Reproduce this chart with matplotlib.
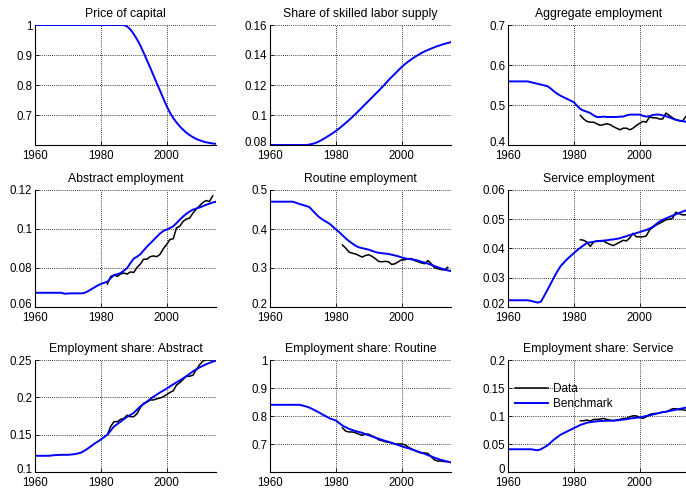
import numpy as np
import matplotlib
matplotlib.use("Agg")
import matplotlib.pyplot as plt
import matplotlib.transforms as mtransforms
from matplotlib.ticker import FuncFormatter

plt.rcParams['font.family'] = ['Liberation Sans', 'DejaVu Sans']

years = np.arange(1960, 2016)
data_years = np.arange(1982, 2015)

price_bench = [1.0, 1.0, 1.0, 1.0, 1.0, 1.0, 1.0, 1.0, 1.0, 1.0,
               1.0, 1.0, 1.0, 1.0, 1.0, 1.0, 1.0, 1.0, 1.0, 1.0,
               1.0, 1.0, 1.0, 1.0, 1.0, 1.0, 1.0, 1.0,
               0.995, 0.985, 0.970, 0.952, 0.932, 0.908, 0.883, 0.858, 0.832, 0.806,
               0.781, 0.755, 0.730, 0.708, 0.690, 0.675, 0.662, 0.651, 0.641, 0.633,
               0.626, 0.620, 0.616, 0.612, 0.609, 0.607, 0.605, 0.604]

skill_bench = [0.080, 0.080, 0.080, 0.080, 0.080, 0.080, 0.080, 0.080, 0.080, 0.080,
               0.080, 0.080,
               0.0803, 0.0808, 0.0815, 0.0825, 0.0837, 0.0850, 0.0864, 0.0878, 0.0893, 0.0910,
               0.0928, 0.0947, 0.0966, 0.0986, 0.1007, 0.1029, 0.1051, 0.1073, 0.1095, 0.1117,
               0.1139, 0.1161, 0.1184, 0.1207, 0.1232, 0.1254, 0.1276, 0.1298, 0.1320, 0.1339,
               0.1356, 0.1372, 0.1387, 0.1400, 0.1413, 0.1424, 0.1434, 0.1443, 0.1452, 0.1460,
               0.1467, 0.1474, 0.1480, 0.1486]

agg_bench = [0.559, 0.559, 0.559, 0.559, 0.559, 0.559, 0.559,
             0.557, 0.555, 0.553, 0.551, 0.549, 0.547, 0.541, 0.534, 0.528, 0.523,
             0.519, 0.515, 0.511, 0.507, 0.498, 0.490, 0.486, 0.483, 0.480, 0.474,
             0.470, 0.470, 0.471, 0.470, 0.470, 0.470, 0.470, 0.471, 0.471, 0.474,
             0.476, 0.476, 0.476, 0.476, 0.473, 0.471, 0.472, 0.475, 0.476, 0.476,
             0.474, 0.472, 0.469, 0.466, 0.463, 0.461, 0.460, 0.458, 0.457]
agg_data = [0.474, 0.465, 0.459, 0.457, 0.457, 0.453, 0.449, 0.451, 0.453, 0.451,
            0.446, 0.442, 0.438, 0.442, 0.442, 0.438, 0.442, 0.449, 0.454, 0.459,
            0.457, 0.470, 0.468, 0.468, 0.465, 0.465, 0.480, 0.474, 0.468, 0.463,
            0.461, 0.459, 0.471]

abs_bench = [0.0673, 0.0673, 0.0673, 0.0673, 0.0673, 0.0673, 0.0673, 0.0673, 0.0673,
             0.0668, 0.0669, 0.0670, 0.0670, 0.0670, 0.0670, 0.0672, 0.0680, 0.0690, 0.0700,
             0.0710, 0.0718, 0.0724, 0.0730, 0.0748, 0.0764, 0.0768, 0.0774, 0.0786, 0.0800,
             0.0825, 0.0848, 0.0858, 0.0870, 0.0890, 0.0909, 0.0926, 0.0943, 0.0960, 0.0977,
             0.0990, 0.0997, 0.1005, 0.1014, 0.1030, 0.1048, 0.1064, 0.1078, 0.1090, 0.1099,
             0.1105, 0.1110, 0.1117, 0.1124, 0.1130, 0.1136, 0.1140]
abs_data = [0.0718, 0.0757, 0.0764, 0.0757, 0.0769, 0.0774, 0.0769, 0.0780, 0.0777, 0.0803,
            0.0820, 0.0845, 0.0845, 0.0858, 0.0862, 0.0858, 0.0870, 0.0899, 0.0921, 0.0946,
            0.0950, 0.1006, 0.1014, 0.1039, 0.1051, 0.1056, 0.1082, 0.1102, 0.1119, 0.1136,
            0.1146, 0.1141, 0.1170]

rout_bench = [0.470, 0.470, 0.470, 0.470, 0.470, 0.470, 0.470, 0.470,
              0.467, 0.464, 0.4615, 0.459, 0.456, 0.447, 0.438, 0.430, 0.424, 0.419,
              0.414, 0.407, 0.399, 0.392, 0.384, 0.376, 0.369, 0.363, 0.357, 0.353,
              0.351, 0.349, 0.347, 0.344, 0.341, 0.339, 0.338, 0.337, 0.336, 0.334,
              0.332, 0.330, 0.327, 0.325, 0.323, 0.322, 0.321, 0.319, 0.316, 0.314,
              0.311, 0.308, 0.305, 0.302, 0.299, 0.296, 0.294, 0.292]
rout_data = [0.359, 0.351, 0.341, 0.338, 0.336, 0.332, 0.328, 0.332, 0.334, 0.330,
             0.324, 0.317, 0.316, 0.317, 0.316, 0.309, 0.311, 0.316, 0.321, 0.321,
             0.324, 0.324, 0.319, 0.316, 0.313, 0.311, 0.319, 0.311, 0.301, 0.298,
             0.296, 0.295, 0.302]

serv_bench = [0.0223, 0.0223, 0.0223, 0.0223, 0.0223, 0.0223, 0.0223,
              0.0221, 0.0218, 0.0215, 0.0218, 0.0238, 0.0259, 0.0280, 0.0302, 0.0322,
              0.0340, 0.0352, 0.0364, 0.0374, 0.0384, 0.0394, 0.0403, 0.0411, 0.0419,
              0.0421, 0.0423, 0.0425, 0.0426, 0.0427, 0.0428, 0.0430, 0.0431, 0.0433,
              0.0435, 0.0439, 0.0442, 0.0446, 0.0449, 0.0453, 0.0456, 0.0460, 0.0463,
              0.0468, 0.0474, 0.0483, 0.0492, 0.0498, 0.0503, 0.0508, 0.0512, 0.0517,
              0.0521, 0.0526, 0.0530, 0.0533]
serv_data = [0.0430, 0.0428, 0.0422, 0.0407, 0.0422, 0.0426, 0.0425, 0.0426, 0.0419, 0.0414,
             0.0410, 0.0416, 0.0422, 0.0428, 0.0426, 0.0436, 0.0452, 0.0440, 0.0440, 0.0440,
             0.0443, 0.0463, 0.0472, 0.0480, 0.0486, 0.0492, 0.0498, 0.0500, 0.0503, 0.0524,
             0.0519, 0.0515, 0.0515]

sh_abs_bench = [0.1217, 0.1217, 0.1217, 0.1217, 0.1217,
                0.1220, 0.1226, 0.1228, 0.1230, 0.1230, 0.1230, 0.1234, 0.1239, 0.1248, 0.1260,
                0.1285, 0.1313, 0.1345, 0.1378, 0.1405, 0.1435, 0.1467, 0.1500, 0.1555, 0.1609,
                0.1642, 0.1674, 0.1707, 0.1740, 0.1765, 0.1791, 0.1835, 0.1878, 0.1910, 0.1943,
                0.1976, 0.2009, 0.2037, 0.2065, 0.2091, 0.2117, 0.2145, 0.2174, 0.2200, 0.2226,
                0.2255, 0.2283, 0.2315, 0.2348, 0.2374, 0.2400, 0.2422, 0.2443, 0.2461, 0.2478,
                0.2490]
sh_abs_data = [0.1500, 0.1610, 0.1674, 0.1674, 0.1704, 0.1717, 0.1761, 0.1740, 0.1740, 0.1780,
               0.1861, 0.1922, 0.1935, 0.1965, 0.1965, 0.1980, 0.1991, 0.2009, 0.2035, 0.2065,
               0.2087, 0.2165, 0.2196, 0.2240, 0.2283, 0.2283, 0.2296, 0.2370, 0.2435, 0.2487,
               0.2500, 0.2500, 0.2500]

sh_rout_bench = [0.840, 0.840, 0.840, 0.840, 0.840, 0.840, 0.840, 0.840, 0.840, 0.840,
                 0.837, 0.834, 0.830, 0.824, 0.818, 0.812, 0.805, 0.799, 0.792, 0.788,
                 0.784, 0.775, 0.766, 0.760, 0.754, 0.750, 0.746, 0.743, 0.740, 0.735,
                 0.731, 0.727, 0.723, 0.719, 0.715, 0.711, 0.708, 0.704, 0.700, 0.696,
                 0.692, 0.688, 0.685, 0.681, 0.677, 0.673, 0.669, 0.665, 0.660, 0.656,
                 0.651, 0.647, 0.643, 0.640, 0.637, 0.634]
sh_rout_data = [0.758, 0.746, 0.743, 0.743, 0.740, 0.735, 0.731, 0.735, 0.735, 0.729,
                0.723, 0.715, 0.712, 0.708, 0.706, 0.704, 0.700, 0.700, 0.700, 0.697,
                0.689, 0.683, 0.677, 0.671, 0.668, 0.668, 0.666, 0.654, 0.643, 0.639,
                0.639, 0.637, 0.637]

sh_serv_bench = [0.0406, 0.0406, 0.0406, 0.0406, 0.0406, 0.0406, 0.0406, 0.0406,
                 0.0397, 0.0388, 0.0406, 0.0440, 0.0475, 0.0527, 0.0580, 0.0623, 0.0667,
                 0.0696, 0.0725, 0.0754, 0.0783, 0.0812, 0.0840, 0.0860, 0.0880, 0.0890,
                 0.0899, 0.0905, 0.0910, 0.0913, 0.0916, 0.0916, 0.0916, 0.0922, 0.0928,
                 0.0937, 0.0945, 0.0954, 0.0962, 0.0968, 0.0974, 0.0987, 0.1000, 0.1013,
                 0.1026, 0.1040, 0.1055, 0.1067, 0.1078, 0.1089, 0.1100, 0.1113, 0.1125,
                 0.1137, 0.1148, 0.1160]
sh_serv_data = [0.0916, 0.0916, 0.0928, 0.0910, 0.0939, 0.0939, 0.0945, 0.0957, 0.0939, 0.0928,
                0.0916, 0.0928, 0.0939, 0.0957, 0.0957, 0.0986, 0.1003, 0.1003, 0.0974, 0.0957,
                0.0986, 0.1026, 0.1043, 0.1043, 0.1055, 0.1072, 0.1072, 0.1100, 0.1130, 0.1130,
                0.1113, 0.1113, 0.1100]

titles = ["Price of capital", "Share of skilled labor supply", "Aggregate employment",
          "Abstract employment", "Routine employment", "Service employment",
          "Employment share: Abstract", "Employment share: Routine", "Employment share: Service"]
bench = [price_bench, skill_bench, agg_bench, abs_bench, rout_bench, serv_bench,
         sh_abs_bench, sh_rout_bench, sh_serv_bench]
datas = [None, None, agg_data, abs_data, rout_data, serv_data,
         sh_abs_data, sh_rout_data, sh_serv_data]
ylims = [(0.6, 1.0), (0.08, 0.16), (0.4, 0.7), (0.06, 0.12), (0.2, 0.5), (0.02, 0.06),
         (0.1, 0.25), (0.6, 1.0), (0.0, 0.2)]
yticks = [[0.7, 0.8, 0.9, 1.0], [0.08, 0.1, 0.12, 0.14, 0.16], [0.4, 0.5, 0.6, 0.7],
          [0.06, 0.08, 0.1, 0.12], [0.2, 0.3, 0.4, 0.5], [0.02, 0.03, 0.04, 0.05, 0.06],
          [0.1, 0.15, 0.2, 0.25], [0.7, 0.8, 0.9, 1.0], [0.0, 0.05, 0.1, 0.15, 0.2]]
xticks = [1960, 1980, 2000]

fig = plt.figure(figsize=(6.86, 4.90), dpi=100)
lefts = [35 / 686, 270 / 686, 508 / 686]
width = 181 / 686
rows = [(1 - 145 / 490, 120 / 490), (1 - 307 / 490, 117 / 490), (1 - 472 / 490, 112 / 490)]

fmt = FuncFormatter(lambda v, p: "%g" % round(v, 4))
lift = mtransforms.ScaledTranslation(0, 2.5 / 72, fig.dpi_scale_trans)

for i in range(9):
    r, c = divmod(i, 3)
    b, h = rows[r]
    ax = fig.add_axes([lefts[c], b, width, h])
    if datas[i] is not None:
        ax.plot(data_years, datas[i], color='black', lw=1.1, label='Data')
    ax.plot(years, bench[i], color='#0000ff', lw=1.4, label='Benchmark')
    ax.set_xlim(1960, 2015)
    ax.set_ylim(*ylims[i])
    ax.set_xticks(xticks)
    ax.set_yticks(yticks[i])
    ax.yaxis.set_major_formatter(fmt)
    ax.grid(True, color='black', linestyle=(0, (1, 1.5)), linewidth=0.6)
    for s in ['top', 'right']:
        ax.spines[s].set_visible(False)
    for s in ['left', 'bottom']:
        ax.spines[s].set_linewidth(0.8)
    ax.tick_params(direction='in', length=3, width=0.6, labelsize=8.3)
    ax.tick_params(axis='y', pad=2)
    ax.tick_params(axis='x', pad=3.5)
    if yticks[i][0] == ylims[i][0]:
        lab = ax.yaxis.get_major_ticks()[0].label1
        lab.set_transform(lab.get_transform() + lift)
    ax.set_title(titles[i], fontsize=8.8, pad=6)
    if i == 8:
        ax.legend(loc='upper left', bbox_to_anchor=(0.0, 0.86), frameon=False,
                  fontsize=8.5, handlelength=2.8, handletextpad=0.4,
                  labelspacing=0.3, borderaxespad=0.2)

fig.savefig("out.png", dpi=100)
